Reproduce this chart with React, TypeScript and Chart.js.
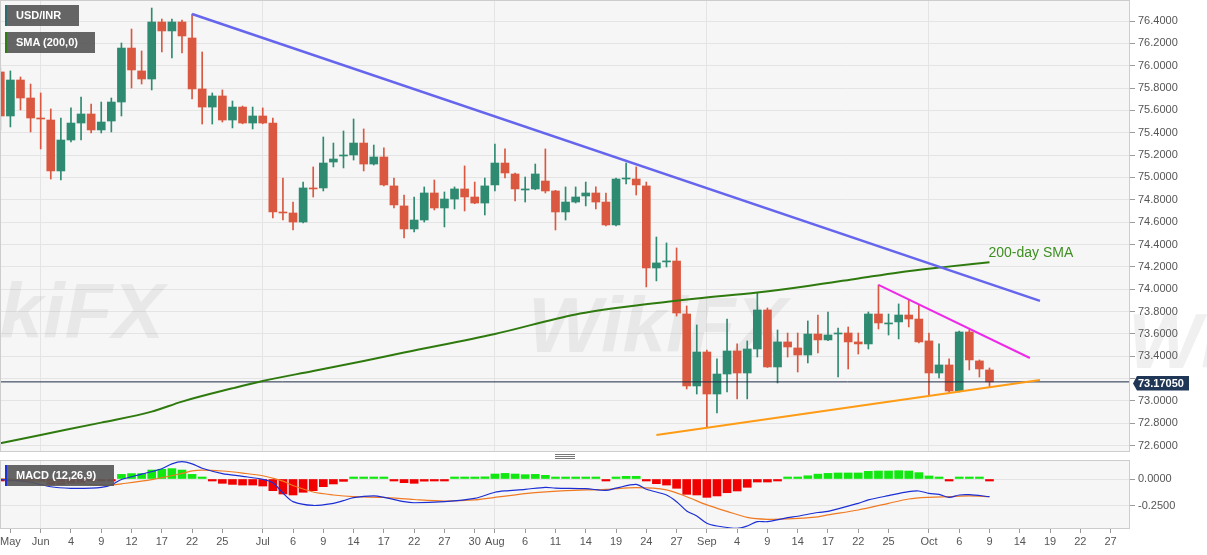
import React, { useEffect, useRef } from "react";
import { Chart, registerables } from "chart.js";

Chart.register(...registerables);
Chart.defaults.font.family = '"Liberation Sans", Arial, sans-serif';

// Trading-day index of the first candle (day 0 = Mon 1 Jun 2020, weekdays only)
const firstDay = -4;

// USD/INR daily OHLC
const opens = [
  75.944, 75.55, 75.872, 75.711, 75.532, 75.514, 75.058, 75.335, 75.487, 75.568,
  75.425, 75.505, 75.675, 76.158, 75.953, 75.881, 76.391, 76.311, 76.391, 76.248,
  75.792, 75.63, 75.729, 75.514, 75.63, 75.487, 75.55, 75.487, 74.691, 74.682,
  74.601, 74.906, 74.906, 75.138, 75.192, 75.201, 75.308, 75.12, 75.183, 74.924,
  74.745, 74.539, 74.619, 74.861, 74.727, 74.807, 74.897, 74.825, 74.771, 74.933,
  75.129, 75.031, 74.888, 74.897, 74.968, 74.879, 74.691, 74.78, 74.834, 74.861,
  74.78, 74.575, 74.986, 74.986, 74.924, 74.19, 74.244, 74.252, 73.778, 73.134,
  73.438, 73.062, 73.241, 73.447, 73.25, 73.465, 73.814, 73.304, 73.528, 73.474,
  73.411, 73.599, 73.546, 73.599, 73.608, 73.528, 73.51, 73.778, 73.689, 73.707,
  73.769, 73.733, 73.537, 73.25, 73.322, 73.089, 73.617, 73.358, 73.277,
];
const highs = [
  75.98, 75.953, 75.899, 75.836, 75.756, 75.613, 75.532, 75.622, 75.72, 75.657,
  75.675, 75.711, 76.203, 76.328, 76.132, 76.516, 76.418, 76.418, 76.409, 76.463,
  76.123, 75.756, 75.783, 75.684, 75.639, 75.63, 75.622, 75.532, 74.995, 74.78,
  74.959, 75.094, 75.362, 75.308, 75.416, 75.523, 75.434, 75.29, 75.264, 74.995,
  74.843, 74.825, 74.915, 74.977, 74.87, 74.915, 75.103, 74.959, 74.995, 75.299,
  75.255, 75.04, 75.004, 75.12, 75.255, 74.885, 74.915, 74.915, 74.959, 74.915,
  74.861, 74.995, 75.129, 75.094, 74.959, 74.467, 74.414, 74.369, 73.85, 73.68,
  73.456, 73.376, 73.733, 73.51, 73.537, 73.966, 73.832, 73.635, 73.608, 73.608,
  73.716, 73.769, 73.796, 73.653, 73.662, 73.608, 73.796, 74.038, 73.778, 73.868,
  73.904, 73.859, 73.608, 73.51, 73.376, 73.625, 73.635, 73.367, 73.295,
];
const lows = [
  75.425, 75.452, 75.604, 75.407, 75.255, 74.986, 74.977, 75.317, 75.335, 75.398,
  75.398, 75.407, 75.55, 75.8, 75.836, 75.783, 76.123, 76.069, 76.114, 75.702,
  75.478, 75.478, 75.496, 75.443, 75.48, 75.434, 75.48, 74.637, 74.619, 74.53,
  74.592, 74.825, 74.879, 75.094, 75.085, 75.156, 75.058, 75.111, 74.924, 74.727,
  74.458, 74.512, 74.601, 74.709, 74.557, 74.718, 74.7, 74.765, 74.664, 74.879,
  74.995, 74.789, 74.78, 74.89, 74.861, 74.53, 74.619, 74.771, 74.745, 74.718,
  74.566, 74.566, 74.941, 74.843, 74.02, 74.074, 74.199, 73.76, 73.107, 73.062,
  72.767, 72.892, 73.08, 73.018, 73.018, 73.393, 73.3, 73.161, 73.393, 73.259,
  73.34, 73.429, 73.54, 73.214, 73.286, 73.42, 73.465, 73.644, 73.59, 73.555,
  73.662, 73.519, 73.053, 73.206, 73.071, 73.08, 73.277, 73.214, 73.125,
];
const closes = [
  75.55, 75.872, 75.711, 75.532, 75.523, 75.058, 75.335, 75.487, 75.568, 75.425,
  75.496, 75.675, 76.158, 75.962, 75.881, 76.391, 76.311, 76.391, 76.266, 75.792,
  75.63, 75.729, 75.514, 75.63, 75.487, 75.55, 75.487, 74.691, 74.682, 74.601,
  74.906, 74.897, 75.129, 75.165, 75.201, 75.308, 75.12, 75.183, 74.933, 74.754,
  74.539, 74.619, 74.861, 74.727, 74.807, 74.897, 74.825, 74.771, 74.924, 75.129,
  75.04, 74.897, 74.897, 75.031, 74.879, 74.691, 74.78, 74.825, 74.861, 74.78,
  74.575, 74.986, 74.995, 74.933, 74.19, 74.235, 74.252, 73.787, 73.134, 73.438,
  73.062, 73.241, 73.447, 73.25, 73.465, 73.814, 73.304, 73.528, 73.483, 73.411,
  73.599, 73.546, 73.59, 73.608, 73.528, 73.51, 73.778, 73.698, 73.698, 73.769,
  73.733, 73.528, 73.25, 73.322, 73.089, 73.617, 73.367, 73.286, 73.1705,
];

const lastPrice = 73.1705;

// 200-day simple moving average
const smaDays = [-4, 0, 6, 11, 14, 19, 22, 27, 32, 36, 45, 53, 59, 65, 71, 76, 81, 85, 89, 94];
const smaValues = [
  72.621, 72.696, 72.806, 72.904, 72.994, 73.113, 73.179, 73.268, 73.358, 73.434,
  73.599, 73.774, 73.854, 73.917, 73.971, 74.029, 74.096, 74.15, 74.193, 74.241,
];

// Trend lines
const fallingDays = [15, 99];
const fallingValues = [76.463, 73.895];
const shortFallingDays = [83, 98];
const shortFallingValues = [74.038, 73.384];
const risingDays = [61, 99];
const risingValues = [72.696, 73.188];

// MACD (12,26,9) histogram, one value per candle
const macdHist = [
  -0.005, -0.005, -0.006, -0.008, -0.02, -0.05, -0.05, -0.035, -0.03, -0.02,
  -0.01, -0.005, 0.043, 0.05, 0.05, 0.083, 0.09, 0.096, 0.083, 0.043,
  0.003, -0.003, -0.04, -0.05, -0.056, -0.056, -0.065, -0.108, -0.139, -0.148,
  -0.123, -0.108, -0.071, -0.046, -0.022, 0.003, 0.003, 0.005, 0.003, -0.005,
  -0.034, -0.04, -0.02, -0.015, -0.008, 0.003, 0.005, 0.008, 0.02, 0.046,
  0.052, 0.046, 0.04, 0.043, 0.034, 0.009, 0.006, 0.006, 0.006, 0.005,
  -0.003, 0.015, 0.025, 0.025, -0.015, -0.043, -0.056, -0.086, -0.142, -0.148,
  -0.17, -0.157, -0.127, -0.111, -0.077, -0.028, -0.028, -0.003, 0.005, 0.008,
  0.03, 0.045, 0.052, 0.056, 0.056, 0.056, 0.071, 0.074, 0.074, 0.077,
  0.074, 0.059, 0.028, 0.012, -0.006, 0.004, 0.004, 0.002, -0.003,
];
const macdDays = [
  -4, -1, 1, 3, 5, 6, 7, 8, 10, 12, 13, 14, 15, 16, 18, 20, 22, 23, 24, 25, 27,
  29, 30, 31, 33, 34, 36, 37, 40, 43, 45, 46, 48, 50, 51, 54, 56, 57, 59, 60,
  62, 63, 64, 65, 66, 67, 69, 70, 71, 72, 74, 75, 77, 78, 81, 82, 84, 86, 87,
  88, 89, 90, 91, 92, 94,
];
const macdValues = [
  -0.003, -0.03, -0.072, -0.086, -0.085, -0.078, -0.055, -0.005, 0.045, 0.095,
  0.14, 0.16, 0.14, 0.1, 0.05, 0.025, -0.003, -0.035, -0.13, -0.21, -0.245,
  -0.225, -0.2, -0.172, -0.157, -0.17, -0.21, -0.22, -0.21, -0.18, -0.123,
  -0.11, -0.096, -0.077, -0.085, -0.09, -0.105, -0.085, -0.05, -0.095, -0.148,
  -0.21, -0.296, -0.343, -0.41, -0.435, -0.457, -0.435, -0.395, -0.395, -0.358,
  -0.345, -0.31, -0.3, -0.225, -0.194, -0.154, -0.117, -0.111, -0.133, -0.142,
  -0.17, -0.148, -0.145, -0.164,
];
const signalDays = [
  -4, -1, 1, 4, 6, 7, 8, 11, 14, 15, 16, 18, 20, 22, 24, 25, 27, 29, 31, 34,
  37, 40, 43, 45, 49, 52, 56, 59, 62, 64, 66, 68, 70, 72, 74, 77, 78, 81, 84,
  86, 88, 90, 92, 94,
];
const signalValues = [
  0.003, -0.01, -0.025, -0.045, -0.055, -0.055, -0.045, -0.005, 0.052, 0.075,
  0.083, 0.074, 0.055, 0.03, -0.02, -0.06, -0.12, -0.148, -0.164, -0.17, -0.19,
  -0.204, -0.194, -0.17, -0.127, -0.108, -0.096, -0.08, -0.1, -0.164, -0.24,
  -0.3, -0.355, -0.373, -0.37, -0.35, -0.333, -0.287, -0.225, -0.185, -0.17,
  -0.164, -0.157, -0.164,
];

// Axis ticks
const xTickDays = [
  -3, 0, 3, 6, 9, 12, 15, 18, 22, 25, 28, 31, 34, 37, 40, 43, 45, 48, 51, 54,
  57, 60, 63, 66, 69, 72, 75, 78, 81, 84, 88, 91, 94, 97, 100, 103, 106,
];
const xTickLabels = [
  "May", "Jun", "4", "9", "12", "17", "22", "25", "Jul", "6", "9", "14", "17",
  "22", "27", "30", "Aug", "6", "11", "14", "19", "24", "27", "Sep", "4", "9",
  "14", "17", "22", "25", "Oct", "6", "9", "14", "19", "22", "27",
];
const monthDays = [0, 22, 45, 66, 88];
const priceTicks = [
  72.6, 72.8, 73.0, 73.2, 73.4, 73.6, 73.8, 74.0, 74.2, 74.4, 74.6, 74.8, 75.0,
  75.2, 75.4, 75.6, 75.8, 76.0, 76.2, 76.4,
];
const macdTicks = [0, -0.25];

const X_MIN = -4.03;
const X_MAX = 107.92;
const UP = "#2e8a71";
const DOWN = "#d9583f";
const GRID = "#e4e4e4";
const FONT = '"Liberation Sans", Arial, sans-serif';

const pts = (days: number[], vals: number[]) => days.map((d, i) => ({ x: d, y: vals[i] }));
const candleColor = (ctx: any) =>
  closes[ctx.dataIndex] >= opens[ctx.dataIndex] ? UP : DOWN;

const panelPlugin = {
  id: "panel",
  beforeDraw(chart: any) {
    const { ctx, chartArea: a, width, height } = chart;
    ctx.save();
    ctx.fillStyle = "#ffffff";
    ctx.fillRect(0, 0, width, height);
    ctx.fillStyle = "#f6f6f6";
    ctx.fillRect(a.left, a.top, a.right - a.left, a.bottom - a.top);
    ctx.restore();
  },
  afterDraw(chart: any) {
    const { ctx, chartArea: a } = chart;
    ctx.save();
    ctx.strokeStyle = "#cdcdcd";
    ctx.lineWidth = 1;
    ctx.strokeRect(a.left + 0.5, a.top - 0.5, a.right - a.left - 1, a.bottom - a.top);
    ctx.restore();
  },
};

// faint brand watermark behind the price series
const watermarkPlugin = {
  id: "watermark",
  beforeDatasetsDraw(chart: any) {
    const { ctx } = chart;
    ctx.save();
    ctx.fillStyle = "rgba(150,140,140,0.13)";
    ctx.font = `bold italic 78px ${FONT}`;
    ctx.textBaseline = "alphabetic";
    ctx.fillText("WikiFX", -95, 338);
    ctx.fillText("WikiFX", 528, 352);
    ctx.fillText("Wi", 1128, 368);
    ctx.restore();
  },
};

const priceLabelPlugin = {
  id: "priceLabel",
  afterDraw(chart: any) {
    const { ctx, chartArea: a, scales } = chart;
    const y = Math.round(scales.y.getPixelForValue(lastPrice)) + 1.5;
    const x0 = a.right + 3;
    ctx.save();
    ctx.fillStyle = "#1f3656";
    ctx.beginPath();
    ctx.moveTo(x0, y);
    ctx.lineTo(x0 + 4, y - 7.5);
    ctx.lineTo(x0 + 56, y - 7.5);
    ctx.lineTo(x0 + 56, y + 7);
    ctx.lineTo(x0 + 4, y + 7);
    ctx.closePath();
    ctx.fill();
    ctx.fillStyle = "#ffffff";
    ctx.font = `bold 11px ${FONT}`;
    ctx.textBaseline = "middle";
    ctx.fillText(lastPrice.toFixed(5), x0 + 5, y);
    ctx.fillStyle = "#3f8f22";
    ctx.font = `14px ${FONT}`;
    ctx.fillText(
      "200-day SMA",
      scales.x.getPixelForValue(93.9),
      scales.y.getPixelForValue(74.32)
    );
    ctx.restore();
  },
};

const handlePlugin = {
  id: "handle",
  afterDraw(chart: any) {
    const { ctx } = chart;
    ctx.save();
    ctx.strokeStyle = "#777";
    ctx.lineWidth = 1;
    for (const y of [2.5, 4.5, 6.5]) {
      ctx.beginPath();
      ctx.moveTo(555, y);
      ctx.lineTo(575, y);
      ctx.stroke();
    }
    ctx.restore();
  },
};

const trend = (data: any[], color: string, width: number) => ({
  type: "line" as const,
  data,
  borderColor: color,
  borderWidth: width,
  pointRadius: 0,
  tension: 0,
  order: 0,
});

const boxStyle = (top: number, width: number, accent: string): React.CSSProperties => ({
  position: "absolute",
  left: 5,
  top,
  width,
  height: 21,
  boxSizing: "border-box",
  background: "rgba(88,88,88,0.92)",
  borderLeft: `2px solid ${accent}`,
  color: "#fff",
  font: `bold 11px ${FONT}`,
  lineHeight: "21px",
  paddingLeft: 9,
  whiteSpace: "nowrap",
});

export default function App() {
  const mainRef = useRef<HTMLCanvasElement>(null);
  const macdRef = useRef<HTMLCanvasElement>(null);

  useEffect(() => {
    const bodies = opens.map((o, i) => ({ x: firstDay + i, y: [o, closes[i]] }));
    const wicks = lows.map((l, i) => ({ x: firstDay + i, y: [l, highs[i]] }));

    const main = new Chart(mainRef.current!, {
      type: "bar",
      data: {
        datasets: [
          trend(pts(fallingDays, fallingValues), "#6565ee", 2.5),
          trend(pts(shortFallingDays, shortFallingValues), "#ee2ae8", 2),
          trend(pts(risingDays, risingValues), "#ff9b14", 2),
          {
            type: "line",
            data: pts(smaDays, smaValues),
            borderColor: "#2f7a0e",
            borderWidth: 2,
            pointRadius: 0,
            cubicInterpolationMode: "monotone",
            order: 0,
          },
          trend(
            [
              { x: X_MIN, y: lastPrice },
              { x: X_MAX, y: lastPrice },
            ],
            "#1d2c47",
            1
          ),
          {
            type: "bar",
            data: bodies as any,
            backgroundColor: candleColor,
            barThickness: 8,
            minBarLength: 1,
            grouped: false,
            order: 1,
          },
          {
            type: "bar",
            data: wicks as any,
            backgroundColor: candleColor,
            barThickness: 1,
            grouped: false,
            order: 2,
          },
        ] as any,
      },
      options: {
        responsive: false,
        animation: false,
        events: [],
        layout: { padding: { top: 1, left: 0, right: 0, bottom: 0 } },
        plugins: { legend: { display: false }, tooltip: { enabled: false } },
        scales: {
          x: {
            type: "linear",
            min: X_MIN,
            max: X_MAX,
            offset: false,
            afterBuildTicks: (s: any) => {
              s.ticks = monthDays.map((v) => ({ value: v }));
            },
            afterFit: (s: any) => {
              s.height = 0;
              s.paddingLeft = 0;
              s.paddingRight = 0;
            },
            ticks: { display: false },
            grid: { offset: false, drawTicks: false, color: GRID },
            border: { display: false },
          },
          y: {
            position: "right",
            min: 72.543,
            max: 76.579,
            afterBuildTicks: (s: any) => {
              s.ticks = priceTicks.map((v) => ({ value: v }));
            },
            afterFit: (s: any) => {
              s.width = 77;
              s.paddingTop = 0;
              s.paddingBottom = 0;
            },
            ticks: {
              font: { size: 11 },
              color: "#555",
              padding: 3,
              // the last-price tag sits over the nearest tick label
              callback: (v: any) =>
                Math.abs(Number(v) - lastPrice) < 0.06 ? "" : Number(v).toFixed(4),
            },
            grid: { color: GRID, tickLength: 5, tickColor: "#9a9a9a" },
            border: { display: false },
          },
        },
      } as any,
      plugins: [panelPlugin, watermarkPlugin, priceLabelPlugin],
    });

    const macd = new Chart(macdRef.current!, {
      type: "bar",
      data: {
        datasets: [
          {
            type: "line",
            data: pts(macdDays, macdValues),
            borderColor: "#1b2fd4",
            borderWidth: 1.2,
            pointRadius: 0,
            tension: 0.3,
            order: 0,
          },
          {
            type: "line",
            data: pts(signalDays, signalValues),
            borderColor: "#f07a22",
            borderWidth: 1.2,
            pointRadius: 0,
            tension: 0.3,
            order: 0,
          },
          {
            type: "bar",
            data: macdHist.map((v, i) => ({ x: firstDay + i, y: v })) as any,
            backgroundColor: (ctx: any) => (macdHist[ctx.dataIndex] >= 0 ? "#10e810" : "#f00000"),
            barThickness: 8,
            minBarLength: 2,
            grouped: false,
            order: 1,
          },
        ] as any,
      },
      options: {
        responsive: false,
        animation: false,
        events: [],
        layout: { padding: { top: 9, left: 0, right: 0, bottom: 0 } },
        plugins: { legend: { display: false }, tooltip: { enabled: false } },
        scales: {
          x: {
            type: "linear",
            min: X_MIN,
            max: X_MAX,
            offset: false,
            afterBuildTicks: (s: any) => {
              s.ticks = xTickDays.map((v) => ({ value: v }));
            },
            afterFit: (s: any) => {
              s.height = 26;
              s.paddingLeft = 0;
              s.paddingRight = 0;
            },
            ticks: {
              autoSkip: false,
              maxRotation: 0,
              minRotation: 0,
              font: { size: 11 },
              color: "#555",
              padding: 2,
              callback: (_v: any, i: number) => xTickLabels[i],
            },
            grid: {
              offset: false,
              tickLength: 4,
              tickColor: "#9a9a9a",
              color: (ctx: any) =>
                ctx.tick && monthDays.includes(ctx.tick.value) ? GRID : "rgba(0,0,0,0)",
            },
            border: { display: false },
          },
          y: {
            position: "right",
            min: -0.463,
            max: 0.1667,
            afterBuildTicks: (s: any) => {
              s.ticks = macdTicks.map((v) => ({ value: v }));
            },
            afterFit: (s: any) => {
              s.width = 77;
              s.paddingTop = 0;
              s.paddingBottom = 0;
            },
            ticks: {
              font: { size: 11 },
              color: "#555",
              padding: 3,
              callback: (v: any) => Number(v).toFixed(4),
            },
            grid: { color: GRID, tickLength: 5, tickColor: "#9a9a9a" },
            border: { display: false },
          },
        },
      } as any,
      plugins: [panelPlugin, handlePlugin],
    });

    return () => {
      main.destroy();
      macd.destroy();
    };
  }, []);

  return (
    <div
      style={{
        position: "fixed",
        left: 0,
        top: 0,
        width: 1207,
        height: 555,
        background: "#fff",
        overflow: "hidden",
      }}
    >
      <canvas
        ref={mainRef}
        width={1207}
        height={452}
        style={{ position: "absolute", left: 0, top: 0 }}
      />
      <canvas
        ref={macdRef}
        width={1207}
        height={103}
        style={{ position: "absolute", left: 0, top: 452 }}
      />
      <div style={boxStyle(5, 74, "#2f6a70")}>USD/INR</div>
      <div style={boxStyle(32, 90, "#2d7d12")}>SMA (200,0)</div>
      <div style={boxStyle(465, 109, "#1b33d6")}>MACD (12,26,9)</div>
    </div>
  );
}
